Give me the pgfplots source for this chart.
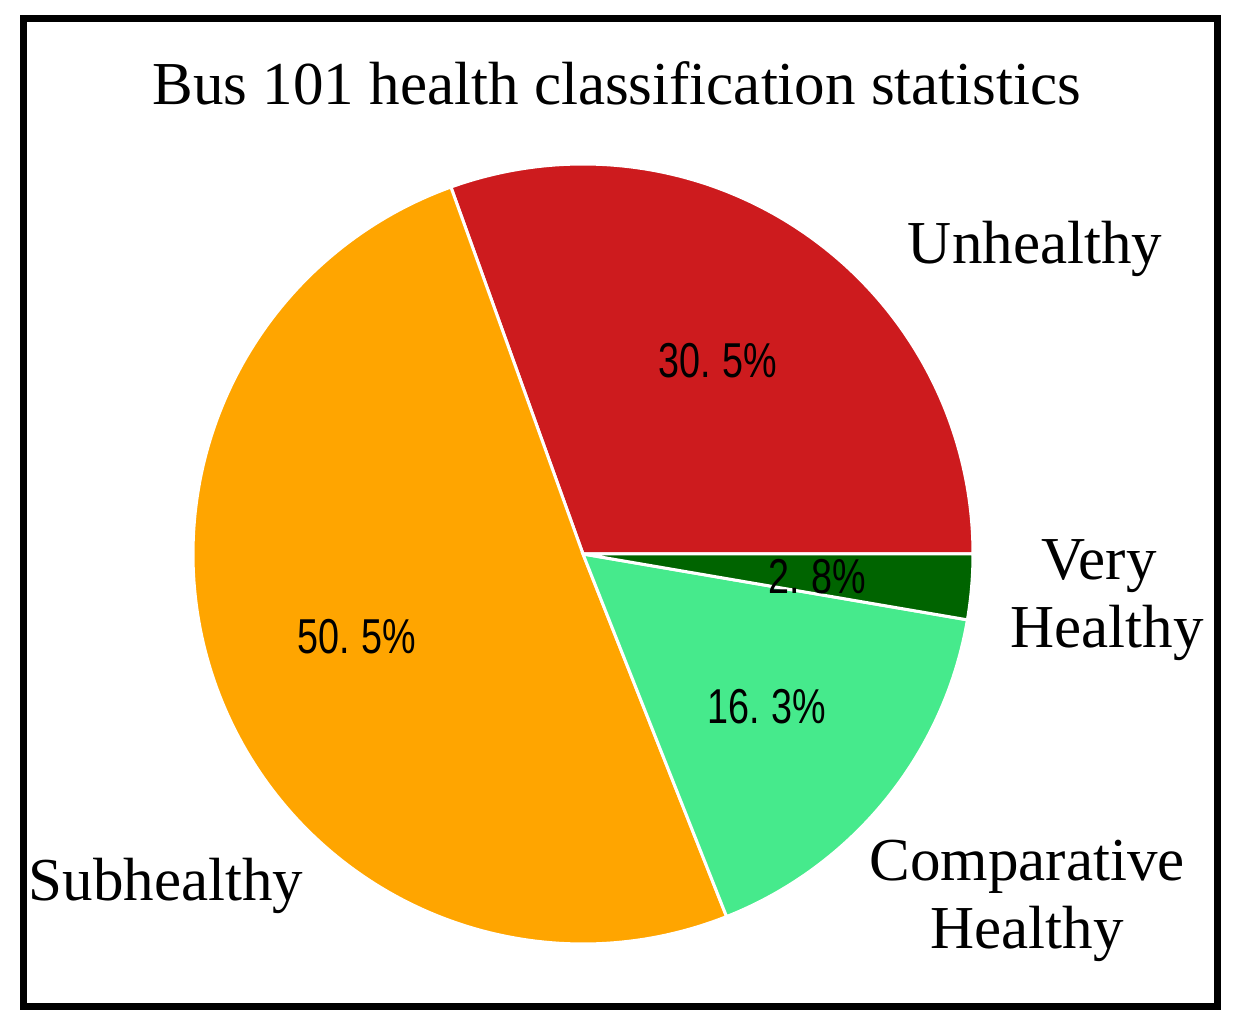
\documentclass[border=0pt]{standalone}
\usepackage{pgfplots}
\pgfplotsset{compat=1.18}
\usepackage{fontspec}
\setmainfont{Liberation Serif}
\newfontfamily\pctfont{Liberation Sans}
\definecolor{cUnh}{HTML}{CD1B1E}
\definecolor{cSub}{HTML}{FFA500}
\definecolor{cCmp}{HTML}{46EA8C}
\definecolor{cVer}{HTML}{006400}
% shares (percent)
\def\vU{30.5}
\def\vS{50.5}
\def\vC{16.3}
\def\vV{2.8}
\def\cx{583}
\def\cy{480}
\def\rr{390}
\newcommand{\lab}{\fontsize{30.5}{34}\selectfont}
\newcommand{\pct}[1]{\scalebox{0.77}[1]{\pctfont\fontsize{24.5}{28}\selectfont #1}}
\begin{document}
\begin{tikzpicture}
\begin{axis}[
  width=621pt, height=517pt, scale only axis,
  xmin=0, xmax=1242, ymin=0, ymax=1034,
  axis lines=none, clip=false,
]
\path (axis cs:0,0) rectangle (axis cs:1242,1034);
\addplot[fill=cUnh, draw=white, line width=1.5pt, domain=0:{3.6*\vU}, samples=120, variable=\t]
  ({\cx+\rr*cos(t)},{\cy+\rr*sin(t)}) -- (axis cs:\cx,\cy) -- cycle;
\addplot[fill=cSub, draw=white, line width=1.5pt, domain={3.6*\vU}:{3.6*(\vU+\vS)}, samples=160, variable=\t]
  ({\cx+\rr*cos(t)},{\cy+\rr*sin(t)}) -- (axis cs:\cx,\cy) -- cycle;
\addplot[fill=cCmp, draw=white, line width=1.5pt, domain={3.6*(\vU+\vS)}:{3.6*(\vU+\vS+\vC)}, samples=80, variable=\t]
  ({\cx+\rr*cos(t)},{\cy+\rr*sin(t)}) -- (axis cs:\cx,\cy) -- cycle;
\addplot[fill=cVer, draw=white, line width=1.5pt, domain={3.6*(\vU+\vS+\vC)}:360, samples=30, variable=\t]
  ({\cx+\rr*cos(t)},{\cy+\rr*sin(t)}) -- (axis cs:\cx,\cy) -- cycle;

\draw[line width=3.5pt] (axis cs:23.5,1015.5) rectangle (axis cs:1217.5,27.5);

\node[font=\lab, anchor=base] at (axis cs:617,929) {Bus 101 health classification statistics};
\node[font=\lab, anchor=base] at (axis cs:1035,770) {Unhealthy};
\node[font=\lab, anchor=base] at (axis cs:1099,454) {Very};
\node[font=\lab, anchor=base] at (axis cs:1107,386) {Healthy};
\node[font=\lab, anchor=base] at (axis cs:1027,154) {Comparative};
\node[font=\lab, anchor=base] at (axis cs:1027,86) {Healthy};
\node[font=\lab, anchor=base] at (axis cs:166,134) {Subhealthy};

\node[anchor=base] at (axis cs:718,656) {\pct{30.\hspace{0.3em}5\%}};
\node[anchor=base] at (axis cs:817,440) {\pct{2.\hspace{0.3em}8\%}};
\node[anchor=base] at (axis cs:767,310) {\pct{16.\hspace{0.3em}3\%}};
\node[anchor=base] at (axis cs:357,380) {\pct{50.\hspace{0.3em}5\%}};
\end{axis}
\end{tikzpicture}
\end{document}
